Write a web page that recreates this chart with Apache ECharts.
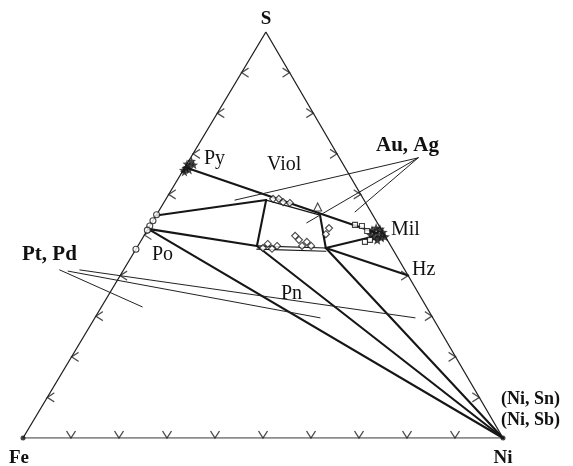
<!DOCTYPE html>
<html>
<head>
<meta charset="utf-8">
<script src="https://cdn.jsdelivr.net/npm/echarts@6/dist/echarts.min.js"></script>
<style>
  html, body { margin: 0; padding: 0; background: #fff; }
  #chart { width: 573px; height: 466px; }
</style>
</head>
<body>
<div id="chart"></div>
<script>
// Fe–Ni–S ternary diagram. Every composition is [Ni at.%, S at.%]; Fe = 100 − Ni − S.

const tickLevels = [10, 20, 30, 40, 50, 60, 70, 80, 90];

const vertexFe = [0, 0];
const vertexNi = [100, 0];
const vertexS = [0, 100];

// phase compositions
const pyriteMark = [0, 66.7];
const milleriteMark = [48.2, 50.5];
const heazlewoodite = [60, 40];
const pyrrhotiteTop = [0, 54.8];
const pyrrhotiteLow = [0, 51.5];

// corners of the mss field
const mssUpperLeft = [21.0, 58.6];
const mssUpperRight = [34.1, 54.9];
const mssLowerRight = [39.4, 46.8];
const mssLowerLeft = [24.8, 47.3];
const mssLowerLeftB = [25.2, 46.5];
const mssLowerRightB = [39.8, 46.0];
const milleriteEdge = [47.6, 49.5];

// analysed grains
const pyriteGrains = [[0, 67.5], [0.8, 67.0], [0.3, 66.5], [1.2, 66.0], [0.5, 65.5], [0, 66.0], [1.5, 67.3], [0.6, 68.2]];
const milleriteGrains = [[46.8, 51.2], [47.4, 51.7], [48.3, 51.5], [49.3, 50.7], [48.5, 50.2], [48.1, 49.5], [49.6, 49.4], [49.1, 48.8], [47.2, 50.0], [50.3, 49.6]];
const pyrrhotiteGrains = [[0, 55.0], [0, 53.5], [0, 52.2], [0, 51.2], [0, 46.5]];
const mssGrains = [[22.3, 58.9], [23.5, 58.9], [24.8, 58.1], [26.3, 57.9],
                   [26.3, 46.8], [26.8, 47.8], [28.3, 46.6], [29.0, 47.3], [31.5, 49.8], [32.8, 48.8],
                   [34.2, 47.3], [34.7, 48.3], [36.1, 47.3], [37.6, 51.7], [37.7, 50.2]];
const violariteGrains = [[32.6, 56.9]];
const nickelGrains = [[42.6, 52.5], [44.2, 52.2], [45.9, 51.0], [46.8, 48.3], [47.6, 48.8]];

// leader lines of the inclusion notes
const auAgNote = [47.4, 69.0];
const auAgTargets = [[14.5, 58.6], [32.3, 53.0], [41.0, 55.7]];
const ptPdNote = [[-13.3, 41.4], [-9.1, 41.4], [-11.4, 41.1]];
const ptPdTargets = [[8.5, 32.3], [66.7, 29.6], [46.9, 29.6]];

// tie lines
const tieLines = [
  [pyriteMark, milleriteMark],
  [pyrrhotiteTop, mssUpperLeft],
  [pyrrhotiteLow, mssLowerLeft],
  [pyrrhotiteLow, vertexNi],
  [mssLowerLeft, vertexNi],
  [mssLowerRight, vertexNi],
  [mssLowerRight, heazlewoodite],
  [mssLowerRight, milleriteEdge],
  [mssUpperLeft, mssLowerLeft],
  [mssUpperRight, mssLowerRight]
];
const fieldEdges = [
  [mssUpperLeft, mssUpperRight],
  [mssLowerLeft, mssLowerRight],
  [mssLowerLeftB, mssLowerRightB]
];

// apex S sits slightly right of the middle of the Fe–Ni base
const APEX_X = 0.506;
const toXY = p => [(p[0] + p[1] * APEX_X) / 100, p[1] / 100];

const INK = '#161616';

function segmentSeries(segs, width, color) {
  return segs.map(s => ({
    type: 'line', data: s.map(toXY), symbol: 'none', silent: true, z: 2,
    lineStyle: { width: width, color: color, cap: 'round' }
  }));
}

function markerSeries(points, symbol, size, filled) {
  return {
    type: 'scatter', data: points.map(toXY), symbol: symbol, symbolSize: size, z: 5, silent: true,
    itemStyle: { color: filled ? INK : '#fff', borderColor: INK, borderWidth: filled ? 0 : 1.1 }
  };
}

function tickSeries(points, path, size, offset) {
  return {
    type: 'scatter', data: points.map(toXY), symbol: path, symbolSize: size, symbolOffset: offset,
    z: 4, silent: true,
    itemStyle: { color: 'none', borderColor: '#222', borderWidth: 1.2 }
  };
}

const leaderLines = auAgTargets.map(t => [auAgNote, t])
  .concat(ptPdTargets.map((t, i) => [ptPdNote[i], t]));

const series = [
  { type: 'line', data: [vertexFe, vertexS, vertexNi].map(toXY), symbol: 'none', silent: true, z: 1,
    lineStyle: { width: 1.3, color: '#222' } },
  { type: 'line', data: [vertexFe, vertexNi].map(toXY), symbol: 'none', silent: true, z: 1,
    lineStyle: { width: 1.6, color: '#666' } }
]
  .concat(segmentSeries(tieLines, 2.1, INK))
  .concat(segmentSeries(fieldEdges, 1.2, INK))
  .concat(segmentSeries(leaderLines, 1, '#222'))
  .concat([
    tickSeries(tickLevels.map(t => [0, t]), 'path://M10,0L0,5L10,10', [7, 9], [3.5, 0]),
    tickSeries(tickLevels.map(t => [100 - t, t]), 'path://M0,0L10,5L0,10', [7, 9], [-3.5, 0]),
    tickSeries(tickLevels.map(t => [t, 0]), 'path://M0,0L5,10L10,0', [9, 7], [0, -3.5]),
    markerSeries(pyriteGrains, 'path://M5,0L6.2,3.5L10,3.8L7,6.2L8.1,10L5,7.8L1.9,10L3,6.2L0,3.8L3.8,3.5Z', 9, true),
    markerSeries(milleriteGrains, 'path://M5,0L6.2,3.5L10,3.8L7,6.2L8.1,10L5,7.8L1.9,10L3,6.2L0,3.8L3.8,3.5Z', 10, true),
    markerSeries(pyrrhotiteGrains, 'circle', 6, false),
    markerSeries(mssGrains, 'diamond', 7, false),
    markerSeries(violariteGrains, 'triangle', 8, false),
    markerSeries(nickelGrains, 'rect', 5, false),
    markerSeries([vertexFe, vertexNi], 'circle', 5, true)
  ]);

const serif = '"Liberation Serif", "DejaVu Serif", serif';
function label(text, x, y, size, bold, align) {
  return {
    type: 'text', x: x, y: y, silent: true, z: 10,
    style: { text: text, fill: '#111', align: align || 'left', verticalAlign: 'middle',
             font: (bold ? 'bold ' : '') + size + 'px ' + serif }
  };
}

const chart = echarts.init(document.getElementById('chart'), null, { renderer: 'canvas' });
chart.setOption({
  animation: false,
  backgroundColor: '#fff',
  grid: { left: 23, right: 70, top: 32, bottom: 28 },
  xAxis: { type: 'value', min: 0, max: 1, show: false },
  yAxis: { type: 'value', min: 0, max: 1, show: false },
  series: series,
  graphic: [
    label('S', 266, 19, 19, true, 'center'),
    label('Fe', 19, 458, 19, true, 'center'),
    label('Ni', 503, 458, 19, true, 'center'),
    label('Py', 204, 159, 20, false),
    label('Viol', 267, 165, 20, false),
    label('Au, Ag', 376, 146, 21, true),
    label('Mil', 391, 230, 20, false),
    label('Hz', 412, 270, 20, false),
    label('Po', 152, 255, 20, false),
    label('Pt, Pd', 22, 255, 21, true),
    label('Pn', 281, 294, 20, false),
    label('(Ni, Sn)', 501, 399, 18, true),
    label('(Ni, Sb)', 501, 420, 18, true)
  ]
});
</script>
</body>
</html>
